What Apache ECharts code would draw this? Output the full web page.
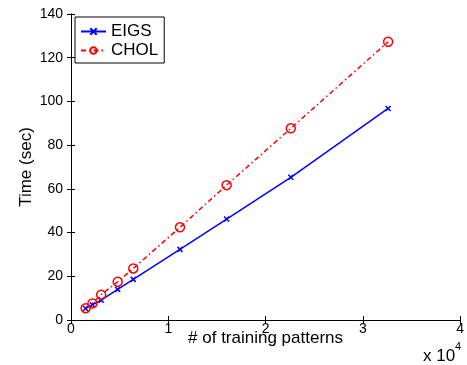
<!DOCTYPE html>
<html>
<head>
<meta charset="utf-8">
<script src="https://cdn.jsdelivr.net/npm/echarts@6/dist/echarts.min.js"></script>
<style>
  html, body { margin: 0; padding: 0; background: #fff; }
  #main { width: 467px; height: 365px; }
</style>
</head>
<body>
<div id="main"></div>
<script>
var patterns = [1500, 2200, 3100, 4800, 6400, 11200, 16000, 22600, 32600];
var eigsTime = [5.3, 6.9, 9.1, 14.0, 18.6, 32.3, 46.2, 65.3, 96.8];
var cholTime = [5.4, 7.6, 11.6, 17.5, 23.6, 42.4, 61.7, 87.7, 127.3];
var seriesNames = ['EIGS', 'CHOL'];

function pairs(xs, ys) {
  return xs.map(function (x, i) { return [x, ys[i]]; });
}

var font = 'Liberation Sans, Arial, sans-serif';
var crossMark = 'path://M0,0L10,10M10,0L0,10';

var chart = echarts.init(document.getElementById('main'));
var option = {
  backgroundColor: '#fff',
  animation: false,
  textStyle: { fontFamily: font },
  grid: { left: 71, right: 5, top: 14, bottom: 45 },
  legend: {
    data: seriesNames,
    orient: 'vertical',
    left: 75,
    top: 17,
    itemWidth: 25,
    itemHeight: 8,
    itemGap: 2,
    padding: [6, 6, 4, 5],
    borderColor: '#000',
    borderWidth: 1,
    backgroundColor: '#fff',
    textStyle: { fontSize: 17, color: '#000', fontFamily: font }
  },
  xAxis: [
    {
      type: 'value',
      min: 0,
      max: 40000,
      interval: 10000,
      name: '# of training patterns',
      nameLocation: 'middle',
      nameGap: 10,
      nameMoveOverlap: false,
      nameTextStyle: { fontSize: 17, color: '#000' },
      axisLine: { lineStyle: { color: '#000', width: 1 } },
      axisTick: { inside: true, length: 4, lineStyle: { color: '#000' } },
      axisLabel: {
        fontSize: 14, color: '#000', margin: 2,
        formatter: function (v) { return v / 10000; }
      },
      splitLine: { show: false }
    },
    {
      type: 'value',
      position: 'top',
      min: 0,
      max: 40000,
      interval: 10000,
      axisLine: { lineStyle: { color: '#000', width: 1 } },
      axisTick: { inside: true, length: 4, lineStyle: { color: '#000' } },
      axisLabel: { show: false },
      splitLine: { show: false }
    }
  ],
  yAxis: [
    {
      type: 'value',
      min: 0,
      max: 140,
      interval: 20,
      name: 'Time (sec)',
      nameLocation: 'middle',
      nameGap: 36,
      nameMoveOverlap: false,
      nameTextStyle: { fontSize: 17, color: '#000' },
      axisLine: { show: true, lineStyle: { color: '#000', width: 1 } },
      axisTick: { inside: true, length: 4, lineStyle: { color: '#000' } },
      axisLabel: { fontSize: 14, color: '#000', margin: 8 },
      splitLine: { show: false }
    },
    {
      type: 'value',
      position: 'right',
      min: 0,
      max: 140,
      interval: 20,
      axisLine: { show: true, lineStyle: { color: '#000', width: 1 } },
      axisTick: { inside: true, length: 4, lineStyle: { color: '#000' } },
      axisLabel: { show: false },
      splitLine: { show: false }
    }
  ],
  graphic: [
    {
      type: 'text', left: 423, top: 348,
      style: { text: 'x 10', fontSize: 17, fontFamily: font, fill: '#000' }
    },
    {
      type: 'text', left: 455, top: 341,
      style: { text: '4', fontSize: 11, fontFamily: font, fill: '#000' }
    }
  ],
  series: [
    {
      name: 'EIGS',
      type: 'line',
      data: pairs(patterns, eigsTime),
      symbol: crossMark,
      symbolSize: 5,
      lineStyle: { color: '#0000ff', width: 1.5 },
      itemStyle: { color: '#0000ff', borderColor: '#0000ff', borderWidth: 1.5 }
    },
    {
      name: 'CHOL',
      type: 'line',
      data: pairs(patterns, cholTime),
      symbol: 'circle',
      symbolSize: 9,
      lineStyle: { color: '#ff0000', width: 1.5, type: [5, 3, 1.5, 3] },
      itemStyle: { color: 'rgba(0,0,0,0)', borderColor: '#ff0000', borderWidth: 1.5 }
    }
  ]
};
chart.setOption(option);
window.addEventListener('resize', function () {
  chart.resize();
});
</script>
</body>
</html>
